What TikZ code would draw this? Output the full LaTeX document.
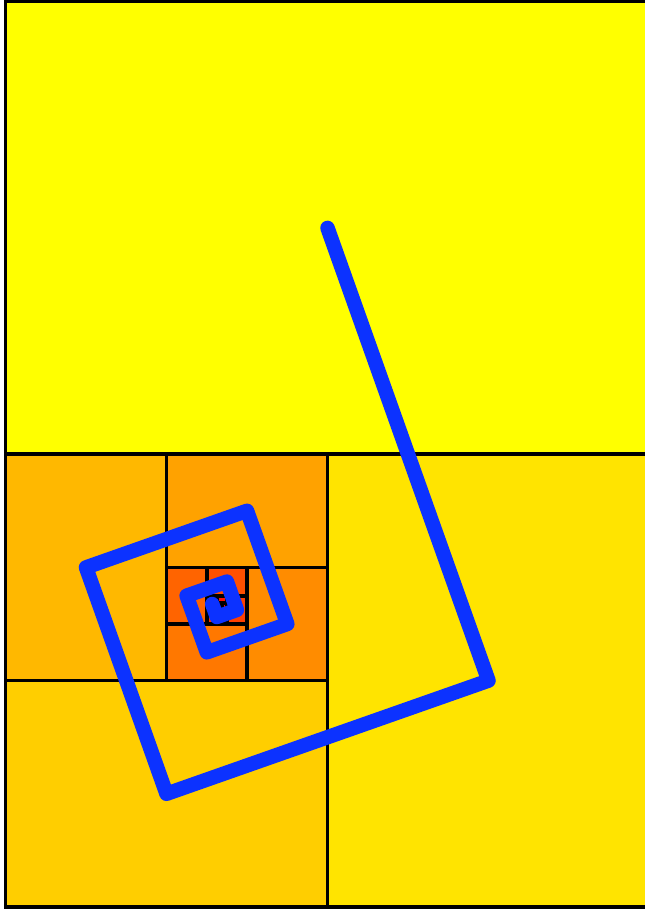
\documentclass[tikz,border=0pt]{standalone}
\usepackage{xcolor}
\usetikzlibrary{calc}
\definecolor{spiralblue}{RGB}{12,50,255}
\tikzset{
  every picture/.append style={line cap=round,line join=round},
  sheet cut/.style={draw=black,line width=3.6pt,line join=miter,line cap=rect},
  spiral arm/.style={draw=spiralblue,line width=14.5pt,line cap=round,line join=round}
}

\begin{document}
\begin{tikzpicture}[x=1pt,y=-1pt]
\useasboundingbox (0,0) rectangle (645,910);
\clip (0,0) rectangle (645,910);
% halved sheets, largest first: top, right, bottom, left, ...
\foreach \xa/\ya/\xb/\yb/\gr in {
  5.5/1.5/649.5/454.25/255,
  327.5/454.25/649.5/907/228,
  5.5/680.6/327.5/907/206,
  5.5/454.25/166.5/680.6/184,
  166.5/454.25/327.5/567.4/162,
  247/567.4/327.5/680.6/140,
  166.5/624/247/680.6/120,
  166.5/567.4/206.8/624/100,
  206.8/567.4/247/595.7/80,
  226.9/595.7/247/624/64,
  206.8/609.9/226.9/624/46,
  206.8/595.7/216.8/609.9/30,
  216.8/595.7/226.9/602.8/18,
  221.8/602.8/226.9/609.9/8,
  216.8/602.8/221.8/609.9/0}
  \filldraw[sheet cut,fill={rgb,255:red,255;green,\gr;blue,0}] (\xa,\ya) rectangle (\xb,\yb);
% spiral through the sheet centres
\draw[spiral arm] (327.5,227.9) -- (488.5,680.6) -- (166.5,793.8) -- (86,567.4)
  -- (247,510.8) -- (287.3,624) -- (206.8,652.3) -- (186.6,595.7)
  -- (226.9,581.6) -- (236.9,609.9) -- (216.8,617) -- (212.2,604);
\end{tikzpicture}
\end{document}
